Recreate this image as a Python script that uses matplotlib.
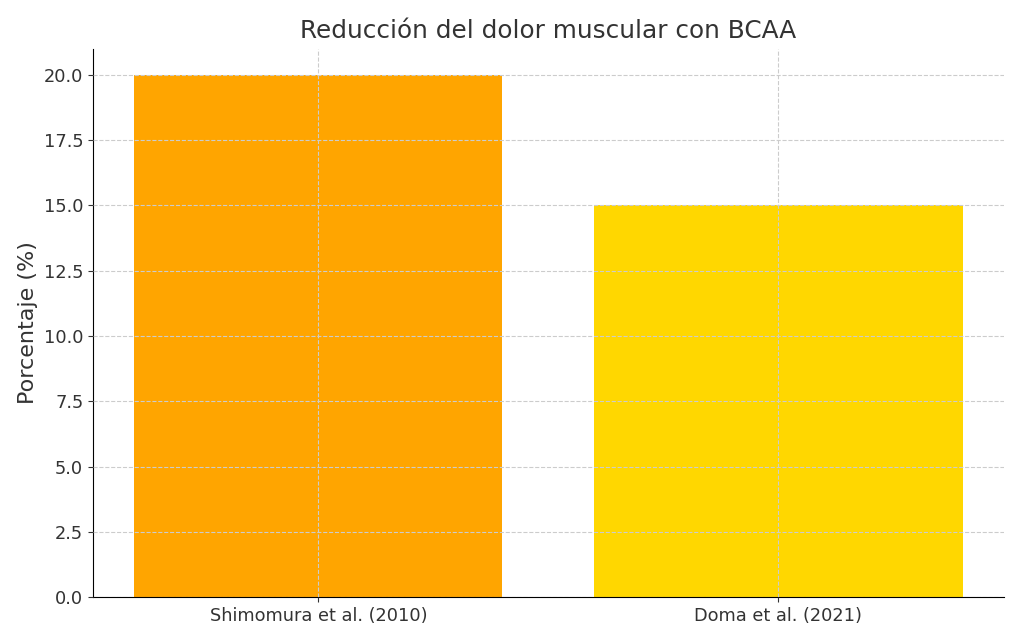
import matplotlib.pyplot as plt

estudios = ["Shimomura et al. (2010)", "Doma et al. (2021)"]
reduccion = [20, 15]
colores = ["#FFA500", "#FFD700"]

fig = plt.figure(figsize=(10.24, 6.4), dpi=100)
ax = fig.add_axes([0.0908, 0.067, 0.8896, 0.857])

ax.bar(estudios, reduccion, color=colores, width=0.8)
ax.set_ylim(0, 21)
ax.set_yticks([0, 2.5, 5, 7.5, 10, 12.5, 15, 17.5, 20])
ax.set_yticklabels([f"{v:.1f}" for v in ax.get_yticks()])

ax.set_title("Reducción del dolor muscular con BCAA", fontsize=17.8, color="#333333", pad=8)
ax.set_ylabel("Porcentaje (%)", fontsize=16, color="#333333")
ax.tick_params(axis="both", labelsize=12.8, colors="#333333")

ax.grid(True, linestyle="--", color="#cccccc", linewidth=0.8)
ax.set_axisbelow(False)
ax.spines["top"].set_visible(False)
ax.spines["right"].set_visible(False)

fig.savefig("out.png", dpi=100)
